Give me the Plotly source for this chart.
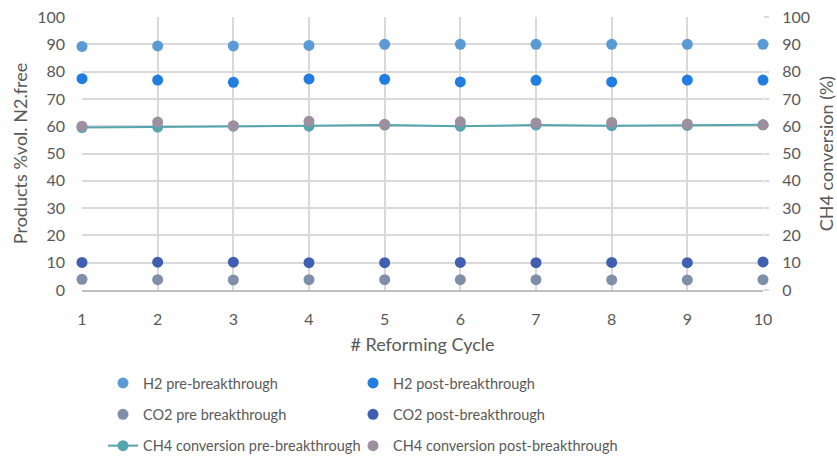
import plotly.graph_objects as go

cycles = [1, 2, 3, 4, 5, 6, 7, 8, 9, 10]
h2_pre = [89.2, 89.4, 89.4, 89.6, 90.0, 90.0, 90.0, 90.0, 90.0, 90.0]
h2_post = [77.4, 76.9, 76.1, 77.3, 77.2, 76.2, 76.8, 76.2, 76.9, 76.9]
co2_pre = [3.9, 3.8, 3.7, 3.8, 3.8, 3.8, 3.8, 3.7, 3.7, 3.8]
co2_post = [10.1, 10.2, 10.2, 10.0, 10.0, 10.1, 10.0, 10.1, 10.0, 10.3]
ch4_pre = [59.5, 59.7, 60.0, 60.0, 60.4, 60.0, 60.4, 60.2, 60.3, 60.5]
ch4_post = [60.0, 61.5, 60.2, 61.8, 60.7, 61.6, 61.2, 61.4, 60.8, 60.5]

FONT = "Lato"
GRAY = "#595959"
GRID = "#d9d9d9"

fig = go.Figure()
ms = 11

def add(y, name, color, legend, group, yaxis="y", lines=False):
    fig.add_trace(go.Scatter(
        x=cycles, y=y, mode="lines+markers" if lines else "markers", name=name,
        line=dict(color=color, width=2), marker=dict(color=color, size=ms),
        cliponaxis=False, yaxis=yaxis, legend=legend, legendgroup=group))

add(h2_pre, "H2 pre-breakthrough", "#5b9bd5", "legend", "a")
add(h2_post, "H2 post-breakthrough", "#1f7ee0", "legend2", "b")
add(co2_pre, "CO2 pre breakthrough", "#7f8fa9", "legend", "c")
add(co2_post, "CO2 post-breakthrough", "#405fb0", "legend2", "d")
add(ch4_pre, "CH4 conversion pre-breakthrough", "#55a5ae", "legend", "e", yaxis="y2", lines=True)
add(ch4_post, "CH4 conversion post-breakthrough", "#9d8f9f", "legend2", "f", yaxis="y2")

leg_common = dict(orientation="v", yref="container", xref="paper", yanchor="top",
                  y=1 - 367 / 459, xanchor="left",
                  font=dict(size=14.5, color=GRAY), tracegroupgap=9.5, itemwidth=30,
                  bgcolor="rgba(0,0,0,0)")

fig.update_layout(
    width=837, height=459,
    margin=dict(l=82, r=74, t=17, b=169),
    paper_bgcolor="white", plot_bgcolor="white",
    font=dict(family=FONT, size=16, color=GRAY),
    xaxis=dict(range=[1, 10], tickvals=cycles, showgrid=True, gridcolor=GRID, gridwidth=1.5,
               showline=True, linecolor="#bfbfbf", linewidth=1.5, zeroline=False,
               ticks="", ticklabelstandoff=14, automargin=False, layer="below traces",
               title=dict(text="# Reforming Cycle", standoff=11, font=dict(size=18)),
               tickfont=dict(size=16, color=GRAY)),
    yaxis=dict(range=[0, 100], tickvals=list(range(0, 101, 10)), showgrid=True, gridcolor=GRID,
               gridwidth=1.5, zeroline=False, showline=False, ticks="", ticklabelstandoff=16,
               automargin=False, layer="below traces",
               title=dict(text="Products %vol. N2.free", standoff=4, font=dict(size=18)),
               tickfont=dict(size=16, color=GRAY)),
    yaxis2=dict(range=[0, 100], tickvals=list(range(0, 101, 10)), overlaying="y", side="right",
                showgrid=False, zeroline=False, showline=False, ticks="outside", ticklen=5,
                tickcolor=GRID, tickwidth=1.5, ticklabelstandoff=10, automargin=False,
                layer="below traces",
                title=dict(text="CH4 conversion (%)", standoff=12, font=dict(size=18)),
                tickfont=dict(size=16, color=GRAY)),
    legend=dict(x=(103 - 82) / 681, **leg_common),
    legend2=dict(x=(353 - 82) / 681, **leg_common),
)

fig.write_html("out.html")
